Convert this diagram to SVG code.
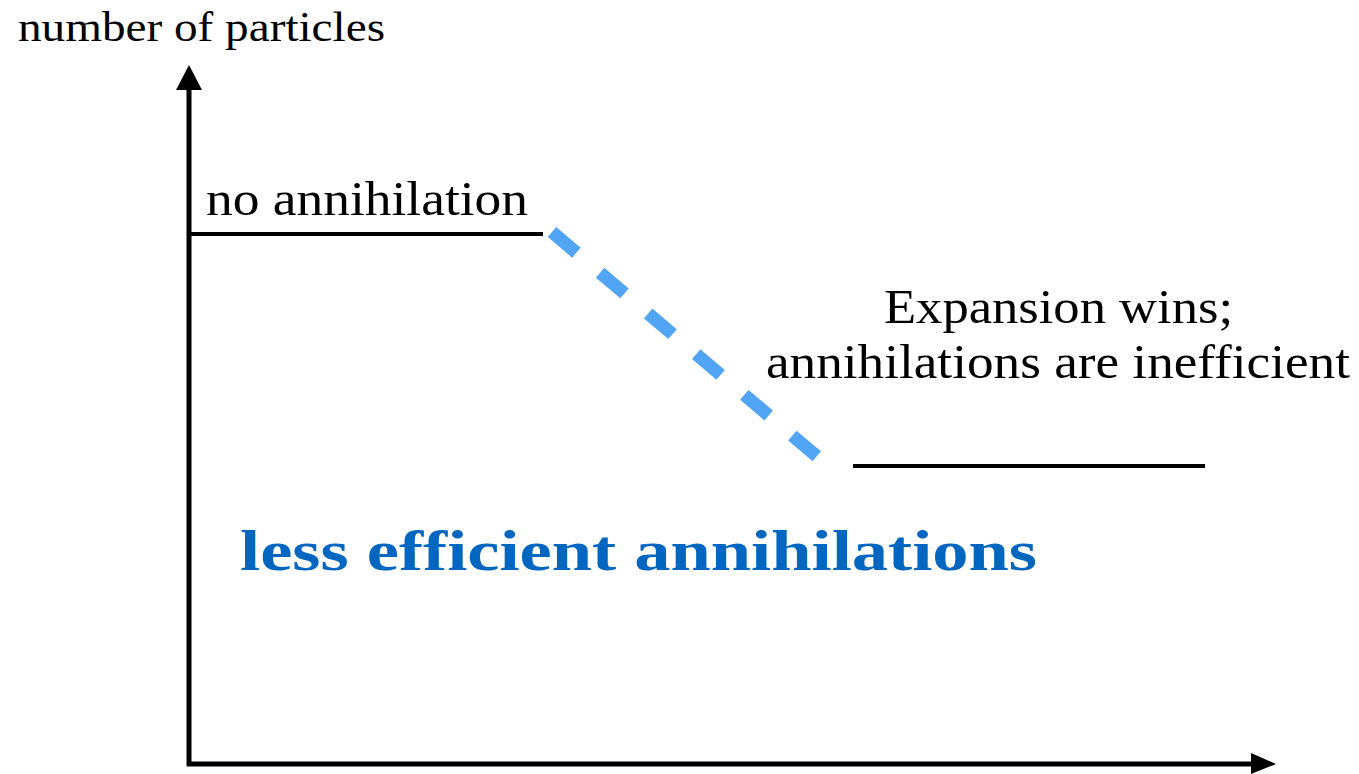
<svg xmlns="http://www.w3.org/2000/svg" width="1359" height="774" viewBox="0 0 1359 774">
<style>
.t{font-family:"Liberation Serif",serif;fill:#000}
.ax{stroke:#000;stroke-width:5;fill:none}
.lvl{stroke:#000;stroke-width:4;fill:none}
</style>
<rect width="1359" height="774" fill="#fff"/>
<g id="connectors">
<line class="ax" x1="189" y1="88" x2="189" y2="766"/>
<line class="ax" x1="187" y1="764" x2="1253" y2="764"/>
<polygon points="176,90 189,65 202,90" fill="#000"/>
<polygon points="1251,753 1276,764 1251,774" fill="#000"/>
<line class="lvl" x1="190" y1="234" x2="543" y2="234"/>
<line class="lvl" x1="853" y1="466" x2="1205" y2="466"/>
<line x1="552" y1="232" x2="820" y2="459" stroke="#52a4f4" stroke-width="13" stroke-dasharray="32 31"/>
</g>
<g id="labels">
<text class="t" x="18" y="41" font-size="42" textLength="367" lengthAdjust="spacingAndGlyphs">number of particles</text>
<text class="t" x="206" y="215" font-size="48" textLength="322" lengthAdjust="spacingAndGlyphs">no annihilation</text>
<text class="t" x="884" y="323" font-size="48" textLength="349" lengthAdjust="spacingAndGlyphs">Expansion wins;</text>
<text class="t" x="766" y="378" font-size="48" textLength="584" lengthAdjust="spacingAndGlyphs">annihilations are inefficient</text>
<text class="t" x="240" y="570" font-size="56" font-weight="bold" style="fill:#0066c0" textLength="797" lengthAdjust="spacingAndGlyphs">less efficient annihilations</text>
</g>
</svg>
